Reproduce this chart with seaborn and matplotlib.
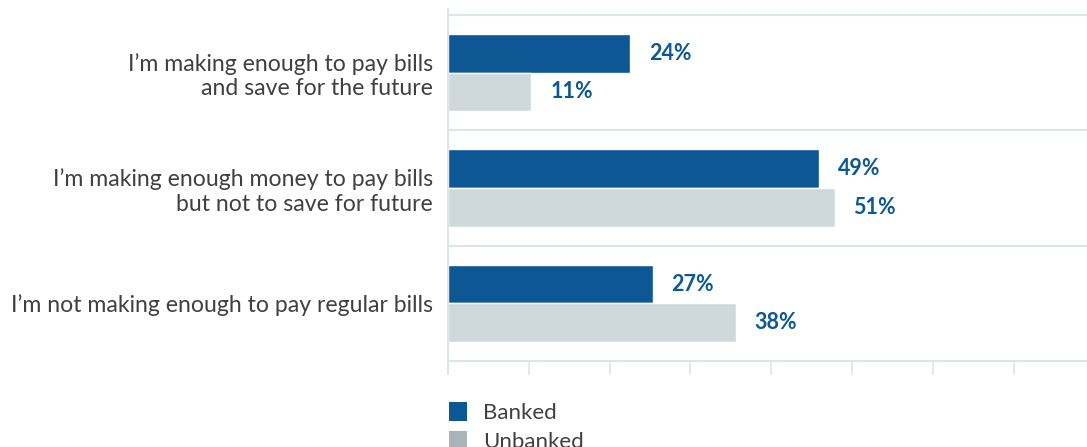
import numpy as np
import pandas as pd
import matplotlib
matplotlib.use("Agg")
import matplotlib.pyplot as plt
from matplotlib.patches import Patch
import seaborn as sns

# Chart data
categories = [
    "I\u2019m making enough to pay bills\nand save for the future",
    "I\u2019m making enough money to pay bills\nbut not to save for future",
    "I\u2019m not making enough to pay regular bills",
]
groups = ["Banked", "Unbanked"]
banked = [24, 49, 27]
unbanked = [11, 51, 38]

bar_colors = {"Banked": "#0c5794", "Unbanked": "#cfd9db"}
legend_colors = {"Banked": "#0c5794", "Unbanked": "#a9b4b8"}

df = pd.DataFrame({
    "category": categories * 2,
    "group": ["Banked"] * 3 + ["Unbanked"] * 3,
    "value": banked + unbanked,
})

sns.set_style("white")
plt.rcParams['font.family'] = ['Lato', 'DejaVu Sans']

fig = plt.figure(figsize=(10.87, 4.47), dpi=100)
ax = fig.add_axes([448 / 1087, 1 - 361 / 447, 1 - 448 / 1087, 346 / 447])

sns.barplot(data=df, x="value", y="category", hue="group", order=categories,
            hue_order=groups, palette=bar_colors, orient="h", width=0.67,
            gap=0, saturation=1, legend=False, ax=ax)

# value labels
for cont in ax.containers:
    ax.bar_label(cont, labels=[f"{v:.0f}%" for v in cont.datavalues],
                 padding=13.5, fontsize=15.5, fontweight="bold", color="#0c5794")

ax.set_xlim(0, 84.3)
ax.set_ylim(2.5, -0.5)

# horizontal separators between groups
for yb in [-0.5, 0.5, 1.5, 2.5]:
    ax.axhline(yb, color="#dde5e7", lw=1.5, zorder=0, clip_on=False)

# tick marks below the axis
ax.set_xticks(np.arange(0, 84, 10.66))
ax.set_xticklabels([])
ax.tick_params(axis="x", direction="out", length=10, width=1.2, color="#dde5e7",
               bottom=True)
ax.tick_params(axis="y", length=0, pad=11, labelsize=16.6, labelcolor="#404040")
ax.set_xlabel("")
ax.set_ylabel("")

for s in ["top", "right", "bottom"]:
    ax.spines[s].set_visible(False)
ax.spines["left"].set_color("#dde5e7")
ax.spines["left"].set_linewidth(1.5)
ax.spines["left"].set_bounds(2.6, -0.55)

handles = [Patch(facecolor=legend_colors[g], edgecolor="none", label=g) for g in groups]
leg = fig.legend(handles=handles, loc="upper left",
                 bbox_to_anchor=(440 / 1087, 1 - 393 / 447), frameon=False,
                 fontsize=16, handlelength=0.8, handleheight=0.95,
                 handletextpad=0.75, labelspacing=0.35, borderaxespad=0)
for t in leg.get_texts():
    t.set_color("#404040")

fig.savefig("out.png", dpi=100)
